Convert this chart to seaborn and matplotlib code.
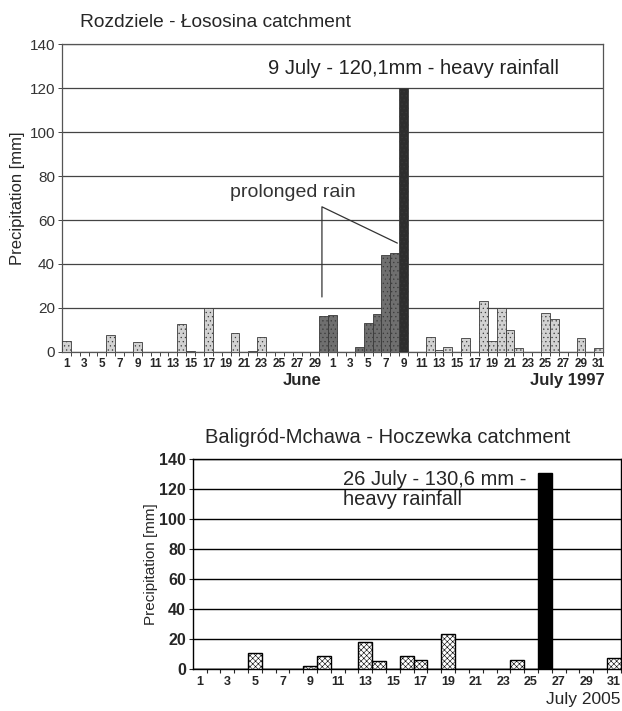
import numpy as np
import pandas as pd
import matplotlib
matplotlib.use("Agg")
import matplotlib.pyplot as plt
import seaborn as sns

# ── Data ──────────────────────────────────────────────────────────────────────
june_1997 = [5.0, 0, 0, 0, 0, 7.8, 0, 0, 4.4, 0,
             0, 0, 0, 12.8, 0.5, 0, 20.0, 0, 0, 8.4,
             0, 0.5, 7.0, 0, 0, 0, 0, 0, 0, 16.2]
july_1997 = [16.8, 0, 0, 2.4, 13.1, 17.3, 44.0, 45.1, 120.1, 0,
             0, 6.9, 0.9, 2.1, 0, 6.3, 0, 23.0, 5.0, 19.8,
             10.2, 1.8, 0, 0, 17.7, 14.8, 0, 0, 6.3, 0, 1.8]
# bar shading class: light = scattered rain, prolonged = 30 June - 8 July, peak = 9 July
kind_1997 = (["light"] * 29 + ["prolonged"] * 9 + ["peak"] + ["light"] * 22)
tick_labels_1997 = [str(d) for d in range(1, 30, 2)] + [str(d) for d in range(1, 32, 2)]

july_2005 = [0, 0, 0, 0, 10.7, 0, 0, 0, 1.8, 8.4,
             0, 0, 18.0, 5.1, 0, 8.9, 6.2, 0, 23.6, 0,
             0, 0, 0, 5.8, 0, 130.6, 0, 0, 0, 0, 7.1]
kind_2005 = ["light"] * 25 + ["peak"] + ["light"] * 5
tick_labels_2005 = [str(d) for d in range(1, 32, 2)]

yticks = list(range(0, 141, 20))

df97 = pd.DataFrame({"idx": np.arange(len(june_1997) + len(july_1997)),
                     "mm": june_1997 + july_1997, "kind": kind_1997})
df05 = pd.DataFrame({"idx": np.arange(len(july_2005)),
                     "mm": july_2005, "kind": kind_2005})

# ── Style ─────────────────────────────────────────────────────────────────────
sns.set_style("white")
plt.rcParams["font.family"] = ["Liberation Sans", "DejaVu Sans"]
plt.rcParams["hatch.linewidth"] = 0.4

fig = plt.figure(figsize=(6.22, 7.11), dpi=100)

# ── Top panel: Rozdziele 1997 ────────────────────────────────────────────────
ax1 = fig.add_axes([0.0997, 0.505, 0.870, 0.433])
pal97 = {"light": "#d2d2d2", "prolonged": "#6f6f6f", "peak": "#2e2e2e"}
sns.barplot(data=df97, x="idx", y="mm", hue="kind", palette=pal97, dodge=False,
            width=1.0, legend=False, ax=ax1, edgecolor="#3a3a3a", linewidth=0.6,
            zorder=3)
for p in ax1.patches:
    p.set_hatch("....")

ax1.set_xlim(-0.5, len(df97) - 0.5)
ax1.set_ylim(0, 140)
ax1.set_yticks(yticks)
ax1.set_yticklabels([str(t) for t in yticks], fontsize=11, color="#333333")
ax1.set_xticks(np.arange(0, len(df97), 2))
ax1.set_xticklabels(tick_labels_1997, fontsize=8.5, fontweight="bold")
ax1.set_xticks(np.arange(len(df97)) + 0.5, minor=True)
ax1.tick_params(axis="x", which="major", length=0, pad=4)
ax1.tick_params(axis="x", which="minor", length=3, width=0.6, direction="out", bottom=True)
ax1.tick_params(axis="y", length=3, width=0.6, direction="out", left=True, pad=2)
ax1.yaxis.grid(True, color="#444444", linewidth=0.9, zorder=0)
ax1.set_axisbelow(True)
for s in ax1.spines.values():
    s.set_color("#555555")
    s.set_linewidth(0.9)
ax1.set_xlabel("")
ax1.set_ylabel("Precipitation [mm]", fontsize=12, labelpad=3)

ax1.text(39.1, 129, "9 July - 120,1mm - heavy rainfall", ha="center", va="center",
         fontsize=14.5, color="#222222")
ax1.text(25.5, 72.5, "prolonged rain", ha="center", va="center",
         fontsize=14, color="#333333")
ax1.plot([28.8, 28.8, 37.3], [25, 66, 49.5], color="#333333", linewidth=0.9, zorder=4)

fig.text(0.129, 0.969, "Rozdziele - Łososina catchment", fontsize=13.8, va="center")
fig.text(0.486, 0.465, "June", fontsize=12, fontweight="bold", ha="center", va="center")
fig.text(0.973, 0.465, "July 1997", fontsize=12, fontweight="bold", ha="right", va="center")

# ── Bottom panel: Baligród-Mchawa 2005 ───────────────────────────────────────
ax2 = fig.add_axes([0.310, 0.059, 0.688, 0.295])
pal05 = {"light": "#ffffff", "peak": "#000000"}
sns.barplot(data=df05, x="idx", y="mm", hue="kind", palette=pal05, dodge=False,
            width=1.0, legend=False, ax=ax2, edgecolor="black", linewidth=1.0,
            zorder=3)
for p in ax2.patches:
    if p.get_facecolor()[0] > 0.5:
        p.set_hatch("xxxxxx")

ax2.set_xlim(-0.5, len(df05) - 0.5)
ax2.set_ylim(0, 140)
ax2.set_yticks(yticks)
ax2.set_yticklabels([str(t) for t in yticks], fontsize=11.5, fontweight="bold")
ax2.set_xticks(np.arange(0, len(df05), 2))
ax2.set_xticklabels(tick_labels_2005, fontsize=9, fontweight="bold")
ax2.set_xticks(np.arange(len(df05)) + 0.5, minor=True)
ax2.tick_params(axis="x", which="major", length=0, pad=5)
ax2.tick_params(axis="x", which="minor", length=3, width=0.8, direction="out", bottom=True)
ax2.tick_params(axis="y", length=3, width=0.8, direction="out", left=True, pad=2)
ax2.yaxis.grid(True, color="black", linewidth=1.0, zorder=0)
ax2.set_axisbelow(True)
for s in ax2.spines.values():
    s.set_color("black")
    s.set_linewidth(1.0)
ax2.set_xlabel("")
ax2.set_ylabel("Precipitation [mm]", fontsize=11, labelpad=1)

ax2.text(10.4, 120, "26 July - 130,6 mm -\nheavy rainfall", ha="left", va="center",
         fontsize=14.5, linespacing=1.1)

fig.text(0.624, 0.384, "Baligród-Mchawa - Hoczewka catchment", fontsize=14.5,
         ha="center", va="center")
fig.text(0.997, 0.0155, "July 2005", fontsize=12.5, ha="right", va="center")

fig.savefig("out.png", dpi=100)
